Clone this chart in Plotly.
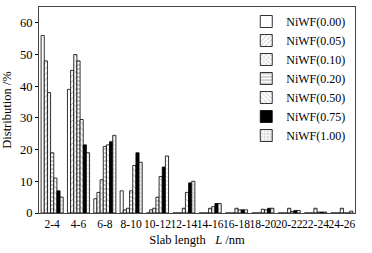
import plotly.graph_objects as go

categories = ["2-4", "4-6", "6-8", "8-10", "10-12", "12-14", "14-16",
              "16-18", "18-20", "20-22", "22-24", "24-26"]
series_names = ["NiWF(0.00)", "NiWF(0.05)", "NiWF(0.10)", "NiWF(0.20)",
                "NiWF(0.50)", "NiWF(0.75)", "NiWF(1.00)"]
niwf_000 = [56, 39, 4.5, 7, 0, 0, 0, 0, 0, 0, 0, 0]
niwf_005 = [48, 45, 6.5, 1, 1, 0, 0, 0, 0, 0, 0, 0]
niwf_010 = [38, 50, 10.5, 1.5, 1.5, 0, 0, 0, 0, 0, 0, 0]
niwf_020 = [19, 48, 21, 7, 5, 1.5, 1.5, 1.5, 1.2, 1.5, 1.5, 1.5]
niwf_050 = [11, 29.5, 21.5, 15, 11.5, 6.5, 2, 1, 1, 0.5, 0.3, 0]
niwf_075 = [7, 21.5, 22.5, 19, 14.5, 9.5, 3, 1, 1.5, 0.8, 0.3, 0]
niwf_100 = [5, 19, 24.5, 16, 18, 10, 3, 1, 1.5, 0.8, 0.3, 0.6]
series_values = [niwf_000, niwf_005, niwf_010, niwf_020, niwf_050, niwf_075, niwf_100]

styles = [
    dict(color="white", pattern=dict(shape="")),
    dict(color="white", pattern=dict(shape="/", fgcolor="black", size=4, solidity=0.15)),
    dict(color="white", pattern=dict(shape="x", fgcolor="black", size=4, solidity=0.15)),
    dict(color="white", pattern=dict(shape="-", fgcolor="black", size=4, solidity=0.2)),
    dict(color="white", pattern=dict(shape="\\", fgcolor="black", size=4, solidity=0.15)),
    dict(color="black", pattern=dict(shape="")),
    dict(color="white", pattern=dict(shape="+", fgcolor="black", size=4, solidity=0.15)),
]

fig = go.Figure()
for name, vals, st in zip(series_names, series_values, styles):
    fig.add_trace(go.Bar(
        x=categories, y=vals, name=name,
        marker=dict(color=st["color"], pattern=st["pattern"],
                    line=dict(color="black", width=0.8)),
    ))

font_family = "Liberation Serif, Times New Roman, serif"
fig.update_layout(
    width=372, height=253,
    margin=dict(l=39, r=17, t=7, b=40, autoexpand=False),
    paper_bgcolor="white", plot_bgcolor="white",
    barmode="group", bargap=0.16, bargroupgap=0,
    font=dict(family=font_family, size=12, color="black"),
    showlegend=True,
    legend=dict(x=0.985, xanchor="right", y=1.0, yanchor="top",
                bgcolor="rgba(0,0,0,0)", borderwidth=0,
                font=dict(size=12, family=font_family),
                itemwidth=30, tracegroupgap=0),
    xaxis=dict(type="category", showline=True, linecolor="#444", linewidth=1, mirror=True,
               ticks="", tickfont=dict(size=11.5), tickangle=0, automargin=False,
               title=dict(text="Slab length   <i>L</i> /nm", font=dict(size=12.5), standoff=6)),
    yaxis=dict(range=[0, 65], dtick=10, showline=True, linecolor="#444",
               linewidth=1, mirror=True, ticks="outside", ticklen=3,
               tickcolor="black", showgrid=False, zeroline=False, automargin=False,
               tickfont=dict(size=12.5),
               title=dict(text="Distribution /%", font=dict(size=12.5), standoff=5)),
)
fig.write_html("out.html", config={"displayModeBar": False},
               post_script="document.body.style.margin='0';")
